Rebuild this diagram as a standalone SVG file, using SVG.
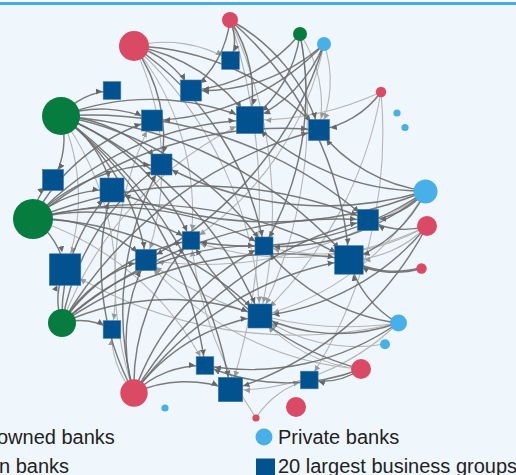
<svg xmlns="http://www.w3.org/2000/svg" width="516" height="475" viewBox="0 0 516 475">
<style>
.e{fill:none;stroke:#6b6b6b;stroke-width:1.45;stroke-opacity:0.9}
.l{fill:none;stroke:#b5b5b5;stroke-width:1.1}
.e.a{marker-end:url(#da)}.e.b{marker-end:url(#db)}.e.c{marker-end:url(#dc)}.e.d{marker-end:url(#dd)}.e.f{marker-end:url(#de)}
.l.a{marker-end:url(#la)}.l.b{marker-end:url(#lb)}.l.c{marker-end:url(#lc)}.l.d{marker-end:url(#ld)}.l.f{marker-end:url(#le)}
.red{fill:#db4a64}.grn{fill:#077c3f}.pb{fill:#47b0e8}.sq{fill:#01528f;stroke:#3c78ad;stroke-width:0.6}
.t{font-family:"Liberation Sans",Arial,sans-serif;font-size:20px;fill:#222}
</style>
<defs>
<marker id="da" viewBox="0 -4 30 8" refX="16" refY="0" markerWidth="30" markerHeight="8" markerUnits="userSpaceOnUse" orient="auto"><path d="M0,-3L6,0L0,3Z" fill="#666"/></marker>
<marker id="db" viewBox="0 -4 30 8" refX="18" refY="0" markerWidth="30" markerHeight="8" markerUnits="userSpaceOnUse" orient="auto"><path d="M0,-3L6,0L0,3Z" fill="#666"/></marker>
<marker id="dc" viewBox="0 -4 30 8" refX="19.5" refY="0" markerWidth="30" markerHeight="8" markerUnits="userSpaceOnUse" orient="auto"><path d="M0,-3L6,0L0,3Z" fill="#666"/></marker>
<marker id="dd" viewBox="0 -4 30 8" refX="21.5" refY="0" markerWidth="30" markerHeight="8" markerUnits="userSpaceOnUse" orient="auto"><path d="M0,-3L6,0L0,3Z" fill="#666"/></marker>
<marker id="de" viewBox="0 -4 30 8" refX="23.5" refY="0" markerWidth="30" markerHeight="8" markerUnits="userSpaceOnUse" orient="auto"><path d="M0,-3L6,0L0,3Z" fill="#666"/></marker>
<marker id="la" viewBox="0 -4 30 8" refX="16" refY="0" markerWidth="30" markerHeight="8" markerUnits="userSpaceOnUse" orient="auto"><path d="M0,-3L6,0L0,3Z" fill="#999"/></marker>
<marker id="lb" viewBox="0 -4 30 8" refX="18" refY="0" markerWidth="30" markerHeight="8" markerUnits="userSpaceOnUse" orient="auto"><path d="M0,-3L6,0L0,3Z" fill="#999"/></marker>
<marker id="lc" viewBox="0 -4 30 8" refX="19.5" refY="0" markerWidth="30" markerHeight="8" markerUnits="userSpaceOnUse" orient="auto"><path d="M0,-3L6,0L0,3Z" fill="#999"/></marker>
<marker id="ld" viewBox="0 -4 30 8" refX="21.5" refY="0" markerWidth="30" markerHeight="8" markerUnits="userSpaceOnUse" orient="auto"><path d="M0,-3L6,0L0,3Z" fill="#999"/></marker>
<marker id="le" viewBox="0 -4 30 8" refX="23.5" refY="0" markerWidth="30" markerHeight="8" markerUnits="userSpaceOnUse" orient="auto"><path d="M0,-3L6,0L0,3Z" fill="#999"/></marker>
</defs>
<rect x="0" y="0" width="516" height="475" fill="#f0f7fc"/>
<rect x="0" y="0" width="516" height="2" fill="#ffffff"/>
<rect x="0" y="2" width="516" height="3" fill="#45aee6"/>
<g id="connectors">
<path class="l a" d="M61 116A285 285 0 0 1 112 329.5"/>
<path class="l f" d="M61 116A199 199 0 0 1 65 269.5"/>
<path class="l a" d="M33 219A294 294 0 0 1 205 365.5"/>
<path class="l d" d="M62 323A360 360 0 0 1 250 120"/>
<path class="l b" d="M134 393A355 355 0 0 1 152 120.5"/>
<path class="l a" d="M134 393A87 87 0 0 1 112 329.5"/>
<path class="l a" d="M134 46A127 127 0 0 1 230.5 60.5"/>
<path class="l c" d="M134 46A387 387 0 0 1 260 316"/>
<path class="l a" d="M134 46A264 264 0 0 1 191 240.5"/>
<path class="l b" d="M134 46A278 278 0 0 1 146 260"/>
<path class="l c" d="M230 20A600 600 0 0 1 230.5 390"/>
<path class="l c" d="M230 20A450 450 0 0 1 260 316"/>
<path class="l b" d="M300 34A127 127 0 0 1 319 130"/>
<path class="l c" d="M300 34A450 450 0 0 1 260 316"/>
<path class="l b" d="M324 44A112 112 0 0 1 319 130"/>
<path class="l a" d="M324 44A308 308 0 0 1 191 240.5"/>
<path class="l d" d="M381 92A300 300 0 0 1 250 120"/>
<path class="l c" d="M381 92A400 400 0 0 1 260 316"/>
<path class="l a" d="M381 92A450 450 0 0 1 309 380"/>
<path class="l b" d="M426 191A375 375 0 0 1 146 260"/>
<path class="l c" d="M426 191A270 270 0 0 1 260 316"/>
<path class="l d" d="M427 226A111 111 0 0 1 349 260"/>
<path class="l a" d="M427 226A213 213 0 0 1 264 246"/>
<path class="l a" d="M427 226A307 307 0 0 1 191 240.5"/>
<path class="l b" d="M398 323A338 338 0 0 1 146 260"/>
<path class="l f" d="M398 323A438 438 0 0 1 65 269.5"/>
<path class="l c" d="M398 323A234 234 0 0 1 230.5 390"/>
<path class="l c" d="M385 344A166 166 0 0 1 260 316"/>
<path class="l c" d="M361 369A148 148 0 0 1 260 316"/>
<path class="l b" d="M361 369A313 313 0 0 1 146 260"/>
<path class="l a" d="M256 418A85 85 0 0 1 309 380"/>
<path class="l a" d="M256 418A400 400 0 0 1 191 240.5"/>
<path class="e a" d="M61 116A74 74 0 0 1 112 90.5"/>
<path class="e b" d="M61 116A118 118 0 0 1 152 120.5"/>
<path class="e b" d="M61 116A84 84 0 0 1 53 180"/>
<path class="e d" d="M61 116A250 250 0 0 1 250 120"/>
<path class="e b" d="M61 116A145 145 0 0 1 161.5 164.5"/>
<path class="e c" d="M61 116A117 117 0 0 1 112 190"/>
<path class="e b" d="M61 116A217 217 0 0 1 146 260"/>
<path class="e a" d="M61 116A234 234 0 0 1 191 240.5"/>
<path class="e a" d="M61 116A313 313 0 0 1 264 246"/>
<path class="e d" d="M61 116A419 419 0 0 1 349 260"/>
<path class="e c" d="M61 116A367 367 0 0 1 260 316"/>
<path class="e c" d="M61 116A419 419 0 0 1 230.5 390"/>
<path class="e a" d="M61 116A375 375 0 0 1 205 365.5"/>
<path class="e b" d="M61 116A421 421 0 0 1 368 220"/>
<path class="e b" d="M33 219A57 57 0 0 1 53 180"/>
<path class="e f" d="M33 219A77 77 0 0 1 65 269.5"/>
<path class="e c" d="M33 219A109 109 0 0 1 112 190"/>
<path class="e b" d="M33 219A156 156 0 0 1 146 260"/>
<path class="e d" d="M33 219A414 414 0 0 1 349 260"/>
<path class="e b" d="M33 219A435 435 0 0 1 368 220"/>
<path class="e a" d="M33 219A302 302 0 0 1 264 246"/>
<path class="e a" d="M33 219A207 207 0 0 1 191 240.5"/>
<path class="e b" d="M33 219A181 181 0 0 1 161.5 164.5"/>
<path class="e b" d="M33 219A201 201 0 0 1 152 120.5"/>
<path class="e d" d="M33 219A310 310 0 0 1 250 120"/>
<path class="e b" d="M33 219A390 390 0 0 1 319 130"/>
<path class="e c" d="M33 219A321 321 0 0 1 260 316"/>
<path class="e a" d="M62 323A66 66 0 0 1 112 329.5"/>
<path class="e f" d="M62 323A70 70 0 0 1 65 269.5"/>
<path class="e b" d="M62 323A137 137 0 0 1 146 260"/>
<path class="e a" d="M62 323A199 199 0 0 1 191 240.5"/>
<path class="e a" d="M62 323A281 281 0 0 1 264 246"/>
<path class="e d" d="M62 323A382 382 0 0 1 349 260"/>
<path class="e b" d="M62 323A420 420 0 0 1 368 220"/>
<path class="e c" d="M62 323A257 257 0 0 1 260 316"/>
<path class="e c" d="M62 323A185 185 0 0 1 112 190"/>
<path class="e b" d="M62 323A243 243 0 0 1 161.5 164.5"/>
<path class="e b" d="M62 323A418 418 0 0 1 319 130"/>
<path class="e c" d="M134 393A125 125 0 0 1 230.5 390"/>
<path class="e a" d="M134 393A99 99 0 0 1 205 365.5"/>
<path class="e c" d="M134 393A192 192 0 0 1 260 316"/>
<path class="e d" d="M134 393A329 329 0 0 1 349 260"/>
<path class="e b" d="M134 393A174 174 0 0 1 146 260"/>
<path class="e a" d="M134 393A212 212 0 0 1 191 240.5"/>
<path class="e c" d="M134 393A265 265 0 0 1 112 190"/>
<path class="e b" d="M134 393A299 299 0 0 1 161.5 164.5"/>
<path class="e a" d="M134 393A255 255 0 0 1 264 246"/>
<path class="e b" d="M134 393A378 378 0 0 1 368 220"/>
<path class="e b" d="M134 46A94 94 0 0 1 191 90.5"/>
<path class="e d" d="M134 46A179 179 0 0 1 250 120"/>
<path class="e b" d="M134 46A264 264 0 0 1 319 130"/>
<path class="e b" d="M134 46A158 158 0 0 1 161.5 164.5"/>
<path class="e a" d="M134 46A310 310 0 0 1 264 246"/>
<path class="e a" d="M230 20A52 52 0 0 1 230.5 60.5"/>
<path class="e b" d="M230 20A105 105 0 0 1 191 90.5"/>
<path class="e d" d="M230 20A133 133 0 0 1 250 120"/>
<path class="e b" d="M230 20A184 184 0 0 1 319 130"/>
<path class="e d" d="M230 20A348 348 0 0 1 349 260"/>
<path class="e d" d="M300 34A129 129 0 0 1 250 120"/>
<path class="e b" d="M300 34A160 160 0 0 1 191 90.5"/>
<path class="e a" d="M300 34A300 300 0 0 1 264 246"/>
<path class="e d" d="M324 44A138 138 0 0 1 250 120"/>
<path class="e b" d="M324 44A183 183 0 0 1 191 90.5"/>
<path class="e b" d="M324 44A364 364 0 0 1 146 260"/>
<path class="e b" d="M324 44A245 245 0 0 1 152 120.5"/>
<path class="e b" d="M381 92A95 95 0 0 1 319 130"/>
<path class="e b" d="M426 191A160 160 0 0 1 319 130"/>
<path class="e d" d="M426 191A247 247 0 0 1 250 120"/>
<path class="e b" d="M426 191A84 84 0 0 1 368 220"/>
<path class="e d" d="M426 191A134 134 0 0 1 349 260"/>
<path class="e b" d="M426 191A346 346 0 0 1 161.5 164.5"/>
<path class="e a" d="M426 191A222 222 0 0 1 264 246"/>
<path class="e c" d="M426 191A408 408 0 0 1 112 190"/>
<path class="e a" d="M426 191A312 312 0 0 1 191 240.5"/>
<path class="e b" d="M427 226A77 77 0 0 1 368 220"/>
<path class="e c" d="M427 226A247 247 0 0 1 260 316"/>
<path class="e c" d="M427 226A333 333 0 0 1 230.5 390"/>
<path class="e d" style="stroke-width:2.6" d="M421 268A94 94 0 0 1 349 260"/>
<path class="e c" d="M398 323A179 179 0 0 1 260 316"/>
<path class="e d" d="M398 323A104 104 0 0 1 349 260"/>
<path class="e a" d="M398 323A201 201 0 0 1 264 246"/>
<path class="e a" d="M398 323A257 257 0 0 1 205 365.5"/>
<path class="e a" d="M361 369A69 69 0 0 1 309 380"/>
<path class="e a" d="M361 369A203 203 0 0 1 205 365.5"/>
<path class="e a" d="M361 369A277 277 0 0 1 191 240.5"/>
</g>
<g id="nodes">
<g id="sob1"><circle class="red" cx="134" cy="46" r="15"/></g>
<g id="sob2"><circle class="red" cx="230" cy="20" r="8"/></g>
<g id="sob3"><circle class="red" cx="381" cy="92" r="5.2"/></g>
<g id="sob4"><circle class="red" cx="427" cy="226" r="10"/></g>
<g id="sob5"><circle class="red" cx="421.5" cy="268.5" r="5.2"/></g>
<g id="sob6"><circle class="red" cx="361" cy="369" r="10"/></g>
<g id="sob7"><circle class="red" cx="296" cy="407" r="10"/></g>
<g id="sob8"><circle class="red" cx="256" cy="418" r="3.6"/></g>
<g id="sob9"><circle class="red" cx="134" cy="393" r="13.7"/></g>
<g id="fb1"><circle class="grn" cx="61" cy="116" r="19"/></g>
<g id="fb2"><circle class="grn" cx="33" cy="219" r="20"/></g>
<g id="fb3"><circle class="grn" cx="62" cy="323" r="14"/></g>
<g id="fb4"><circle class="grn" cx="300" cy="34" r="7"/></g>
<g id="pb1"><circle class="pb" cx="324" cy="44" r="7"/></g>
<g id="pb2"><circle class="pb" cx="397" cy="113" r="3.6"/></g>
<g id="pb3"><circle class="pb" cx="405" cy="127.5" r="3.6"/></g>
<g id="pb4"><circle class="pb" cx="425.5" cy="191.5" r="12"/></g>
<g id="pb5"><circle class="pb" cx="398.5" cy="323" r="8.5"/></g>
<g id="pb6"><circle class="pb" cx="385" cy="344.3" r="5"/></g>
<g id="pb7"><circle class="pb" cx="165" cy="408" r="3.6"/></g>
<g id="bg1"><rect class="sq" x="221.7" y="51.7" width="17.6" height="17.6"/></g>
<g id="bg2"><rect class="sq" x="180.5" y="80" width="21" height="21"/></g>
<g id="bg3"><rect class="sq" x="103.2" y="81.7" width="17.6" height="17.6"/></g>
<g id="bg4"><rect class="sq" x="141.5" y="110" width="21" height="21"/></g>
<g id="bg5"><rect class="sq" x="236.5" y="106.5" width="27" height="27"/></g>
<g id="bg6"><rect class="sq" x="151" y="154" width="21" height="21"/></g>
<g id="bg7"><rect class="sq" x="42.5" y="169.5" width="21" height="21"/></g>
<g id="bg8"><rect class="sq" x="100" y="178" width="24" height="24"/></g>
<g id="bg9"><rect class="sq" x="308.5" y="119.5" width="21" height="21"/></g>
<g id="bg10"><rect class="sq" x="357.5" y="209.5" width="21" height="21"/></g>
<g id="bg11"><rect class="sq" x="182.2" y="231.7" width="17.6" height="17.6"/></g>
<g id="bg12"><rect class="sq" x="49.3" y="253.8" width="31.5" height="31.5"/></g>
<g id="bg13"><rect class="sq" x="135.5" y="249.5" width="21" height="21"/></g>
<g id="bg14"><rect class="sq" x="103.2" y="320.7" width="17.6" height="17.6"/></g>
<g id="bg15"><rect class="sq" x="255" y="237" width="18" height="18"/></g>
<g id="bg16"><rect class="sq" x="334.7" y="245.7" width="28.5" height="28.5"/></g>
<g id="bg17"><rect class="sq" x="248" y="304" width="24" height="24"/></g>
<g id="bg18"><rect class="sq" x="196.2" y="356.7" width="17.6" height="17.6"/></g>
<g id="bg19"><rect class="sq" x="218.3" y="377.3" width="24.4" height="24.4"/></g>
<g id="bg20"><rect class="sq" x="300.5" y="371.2" width="17.6" height="17.6"/></g>
</g>
<g id="legend">
<text class="t" x="-3" y="444">owned banks</text>
<text class="t" x="-1" y="472.5">n banks</text>
<circle class="pb" cx="264" cy="437" r="8.5"/>
<text class="t" x="278" y="444">Private banks</text>
<rect fill="#01528f" x="256" y="458.5" width="19" height="19"/>
<text class="t" x="278" y="472.5">20 largest business groups</text>
</g>
</svg>
